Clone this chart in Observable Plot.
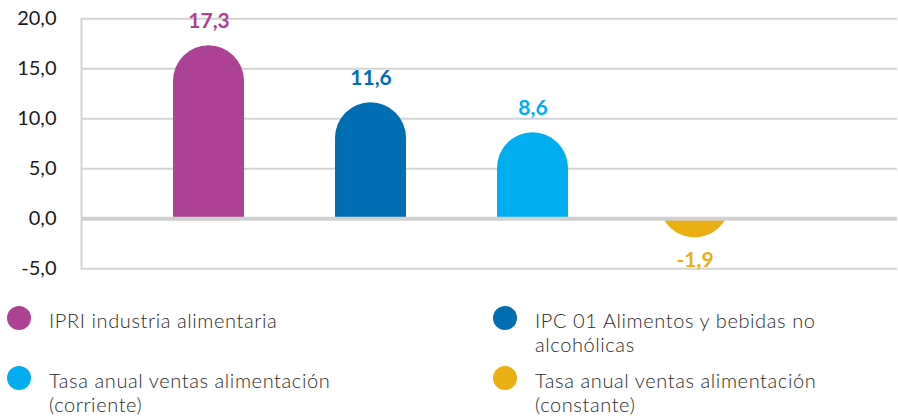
<!DOCTYPE html>
<html>
<head>
<meta charset="utf-8">
<script src="https://cdn.jsdelivr.net/npm/d3@7"></script>
<script src="https://cdn.jsdelivr.net/npm/@observablehq/plot@0.6"></script>
<style>
  html, body { margin: 0; padding: 0; background: #fff; }
  #wrap { position: relative; width: 898px; height: 416px; font-family: Lato, "Open Sans", sans-serif; }
  #wrap svg { display: block; }
  .sw { position: absolute; width: 24px; height: 24px; border-radius: 50%; }
  .lt { position: absolute; font-size: 20px; line-height: 24px; height: 24px; letter-spacing: 0.6px; font-weight: 300; color: #2b2b2b; white-space: nowrap; }
</style>
</head>
<body>
<div id="wrap"></div>
<script>
const categories = [
  "IPRI industria alimentaria",
  "IPC 01 Alimentos y bebidas no alcohólicas",
  "Tasa anual ventas alimentación (corriente)",
  "Tasa anual ventas alimentación (constante)"
];
const values = [17.3, 11.6, 8.6, -1.9];
const colors = ["#ad4194", "#006db2", "#00aeef", "#eab013"];
const yTicks = [-5, 0, 5, 10, 15, 20];
const legendLines = [
  ["IPRI industria alimentaria"],
  ["IPC 01 Alimentos y bebidas no", "alcohólicas"],
  ["Tasa anual ventas alimentación", "(corriente)"],
  ["Tasa anual ventas alimentación", "(constante)"]
];

const data = categories.map((cat, i) => ({cat, value: values[i]}));
const fmt = v => v.toFixed(1).replace(".", ",");

function roundedBars(index, scales) {
  const x = scales.x, y = scales.y;
  const color = scales.color;
  const g = d3.create("svg:g");
  const bw = x.bandwidth();
  const r = bw / 2;
  for (const d of data) {
    const x0 = x(d.cat);
    const cx = x0 + r;
    const y0 = y(0), yv = y(d.value);
    let p;
    if (d.value >= 0) {
      p = `M${x0},${y0}V${yv + r}A${r},${r} 0 0 1 ${x0 + bw},${yv + r}V${y0}Z`;
    } else if (yv - y0 >= r) {
      p = `M${x0},${y0}V${yv - r}A${r},${r} 0 0 0 ${x0 + bw},${yv - r}V${y0}Z`;
    } else {
      const cy = yv - r;
      const h = Math.sqrt(r * r - (y0 - cy) * (y0 - cy));
      p = `M${cx - h},${y0}A${r},${r} 0 0 0 ${cx + h},${y0}Z`;
    }
    g.append("path").attr("d", p).attr("fill", color ? color(d.cat) : colors[categories.indexOf(d.cat)]);
  }
  return g.node();
}

const chart = Plot.plot({
  width: 898,
  height: 280,
  marginLeft: 81,
  marginRight: 1,
  marginTop: 18.3,
  marginBottom: 11.7,
  style: {fontFamily: "Lato, 'Open Sans', sans-serif", fontSize: "20px", color: "#1a1a1a", background: "#fff"},
  x: {type: "band", domain: categories, range: [81.4, 821.1], padding: 0.5604, axis: null},
  y: {domain: [-5, 20], ticks: yTicks, label: null, axis: null},
  color: {domain: categories, range: colors},
  marks: [
    Plot.ruleY(yTicks.filter(t => t !== 0), {stroke: "#d4d4d4", strokeWidth: 2}),
    Plot.frame({anchor: "left", stroke: "#d4d4d4", strokeWidth: 2}),
    Plot.axisY(yTicks, {tickSize: 0, tickPadding: 25, tickFormat: fmt, fontSize: 20, fill: "#1a1a1a", label: null}),
    roundedBars,
    Plot.ruleY([0], {stroke: "#d0d0d0", strokeWidth: 4}),
    Plot.text(data.filter(d => d.value >= 0), {x: "cat", y: "value", text: d => fmt(d.value), fill: "cat", dy: -25, fontSize: 21, fontWeight: 700}),
    Plot.text(data.filter(d => d.value < 0), {x: "cat", y: "value", text: d => fmt(d.value), fill: "cat", dy: 22, fontSize: 21, fontWeight: 700})
  ]
});

const wrap = document.getElementById("wrap");
wrap.appendChild(chart);

// legend: 2 columns x 2 rows
const colCircle = [18.5, 504.5];
const colText = [49, 535];
const rowCy = [318, 378];
const rowTop = [308.3, 368.3];
categories.forEach((cat, i) => {
  const col = i % 2, row = Math.floor(i / 2);
  const sw = document.createElement("span");
  sw.className = "sw";
  sw.style.left = (colCircle[col] - 12) + "px";
  sw.style.top = (rowCy[row] - 12) + "px";
  sw.style.background = colors[i];
  wrap.appendChild(sw);
  legendLines[i].forEach((line, k) => {
    const t = document.createElement("div");
    t.className = "lt";
    t.style.left = colText[col] + "px";
    t.style.top = (rowTop[row] + k * 24) + "px";
    t.textContent = line;
    wrap.appendChild(t);
  });
});
</script>
</body>
</html>
